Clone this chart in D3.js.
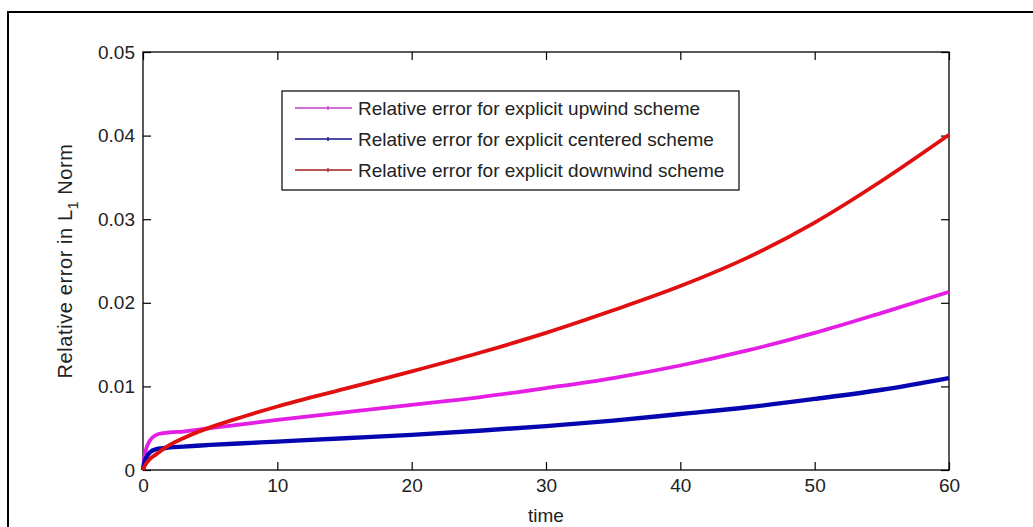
<!DOCTYPE html>
<html>
<head>
<meta charset="utf-8">
<script src="https://cdn.jsdelivr.net/npm/d3@7"></script>
<style>
  body { margin: 0; background: #fff; }
  svg text { font-family: "Liberation Sans", Arial, sans-serif; fill: #222; }
</style>
</head>
<body>
<script>
// time samples
const time = [0, 0.1, 0.25, 0.5, 1, 1.5, 2, 3, 4, 5, 7.5, 10, 15, 20, 25, 30, 35, 40, 45, 50, 55, 60];

const upwind   = [0, 0.0015, 0.0026, 0.0035, 0.0042, 0.0044, 0.0045, 0.0046, 0.0048, 0.0050, 0.0055, 0.0060, 0.0069, 0.0078, 0.0087, 0.0098, 0.0110, 0.0125, 0.0143, 0.0164, 0.0188, 0.0213];
const centered = [0, 0.0009, 0.0015, 0.0021, 0.0025, 0.0026, 0.0027, 0.0028, 0.0029, 0.0030, 0.0032, 0.0034, 0.0038, 0.0042, 0.0047, 0.00525, 0.0059, 0.0067, 0.0075, 0.0085, 0.0096, 0.0110];
const downwind = [0, 0.0004, 0.0008, 0.0013, 0.0019, 0.0025, 0.0030, 0.0038, 0.0045, 0.0051, 0.0064, 0.0076, 0.0097, 0.0118, 0.0140, 0.0164, 0.0191, 0.0220, 0.0254, 0.0296, 0.0346, 0.0401];

const seriesNames = [
  "Relative error for explicit upwind scheme",
  "Relative error for explicit centered scheme",
  "Relative error for explicit downwind scheme"
];
const seriesColors = ["#e41ee4", "#0606b0", "#e01010"];
const legendColors = ["#c040c0", "#101080", "#a02020"];

const xTicks = [0, 10, 20, 30, 40, 50, 60];
const yTicks = [0, 0.01, 0.02, 0.03, 0.04, 0.05];

const W = 1033, H = 527;
const margin = {left: 143, top: 52, right: 1033 - 949, bottom: 527 - 470};

const svg = d3.select("body").append("svg")
    .attr("width", W)
    .attr("height", H);

// outer figure frame
svg.append("rect")
    .attr("x", 8).attr("y", 12)
    .attr("width", 1200).attr("height", 700)
    .attr("fill", "none")
    .attr("stroke", "#000")
    .attr("stroke-width", 2);

const x = d3.scaleLinear().domain([0, 60]).range([margin.left, W - margin.right]);
const y = d3.scaleLinear().domain([0, 0.05]).range([H - margin.bottom, margin.top]);

const tickLen = 8;
const fs = "19px";

// axes, ticks pointing inward like matlab
const gx = svg.append("g")
    .attr("transform", `translate(0,${y(0)})`)
    .call(d3.axisBottom(x).tickValues(xTicks).tickSizeInner(-tickLen).tickSizeOuter(0).tickPadding(9).tickFormat(d3.format("d")));
const gxTop = svg.append("g")
    .attr("transform", `translate(0,${y(0.05)})`)
    .call(d3.axisTop(x).tickValues(xTicks).tickSizeInner(-tickLen).tickSizeOuter(0).tickFormat(""));
const gy = svg.append("g")
    .attr("transform", `translate(${x(0)},0)`)
    .call(d3.axisLeft(y).tickValues(yTicks).tickSizeInner(-tickLen).tickSizeOuter(0).tickPadding(8).tickFormat(d => d === 0 ? "0" : d3.format(".2f")(d)));
const gyRight = svg.append("g")
    .attr("transform", `translate(${x(60)},0)`)
    .call(d3.axisRight(y).tickValues(yTicks).tickSizeInner(-tickLen).tickSizeOuter(0).tickFormat(""));

[gx, gxTop, gy, gyRight].forEach(g => {
  g.select(".domain").remove();
  g.selectAll("line").attr("stroke", "#000").attr("stroke-width", 1.2);
  g.selectAll("text").style("font-size", fs).attr("fill", "#222");
});
gx.selectAll("text").attr("dy", "0.71em");

// plot box
svg.append("rect")
    .attr("x", x(0)).attr("y", y(0.05))
    .attr("width", x(60) - x(0)).attr("height", y(0) - y(0.05))
    .attr("fill", "none")
    .attr("stroke", "#000")
    .attr("stroke-width", 1.3);

// series lines
const line = d3.line()
    .x((d, i) => x(time[i]))
    .y(d => y(d))
    .curve(d3.curveMonotoneX);

const allSeries = [upwind, centered, downwind];
allSeries.forEach((s, k) => {
  svg.append("path")
      .datum(s)
      .attr("d", line)
      .attr("fill", "none")
      .attr("stroke", seriesColors[k])
      .attr("stroke-width", k === 1 ? 4.4 : 3.8);
});

// axis labels
svg.append("text")
    .attr("x", (x(0) + x(60)) / 2)
    .attr("y", 522)
    .attr("text-anchor", "middle")
    .style("font-size", fs)
    .text("time");

const ylab = svg.append("text")
    .attr("transform", `translate(72,${(y(0) + y(0.05)) / 2}) rotate(-90)`)
    .attr("text-anchor", "middle")
    .style("font-size", "20px")
    .style("letter-spacing", "0.6px");
ylab.append("tspan").text("Relative error in L");
ylab.append("tspan").attr("dy", 6).style("font-size", "14px").text("1");
ylab.append("tspan").attr("dy", -6).text(" Norm");

// legend
const legend = svg.append("g");
legend.append("rect")
    .attr("x", 282).attr("y", 91)
    .attr("width", 457).attr("height", 99)
    .attr("fill", "#fff")
    .attr("stroke", "#000")
    .attr("stroke-width", 1.2);

const rowY = [108, 139, 170];
seriesNames.forEach((name, i) => {
  legend.append("line")
      .attr("x1", 295).attr("x2", 352)
      .attr("y1", rowY[i]).attr("y2", rowY[i])
      .attr("stroke", legendColors[i])
      .attr("stroke-width", 1.3);
  legend.append("line")
      .attr("x1", 328).attr("x2", 328)
      .attr("y1", rowY[i] - 2).attr("y2", rowY[i] + 2)
      .attr("stroke", legendColors[i])
      .attr("stroke-width", 1.3);
  legend.append("text")
      .attr("x", 358)
      .attr("y", rowY[i])
      .attr("dy", "0.35em")
      .style("font-size", fs)
      .text(name);
});
</script>
</body>
</html>
